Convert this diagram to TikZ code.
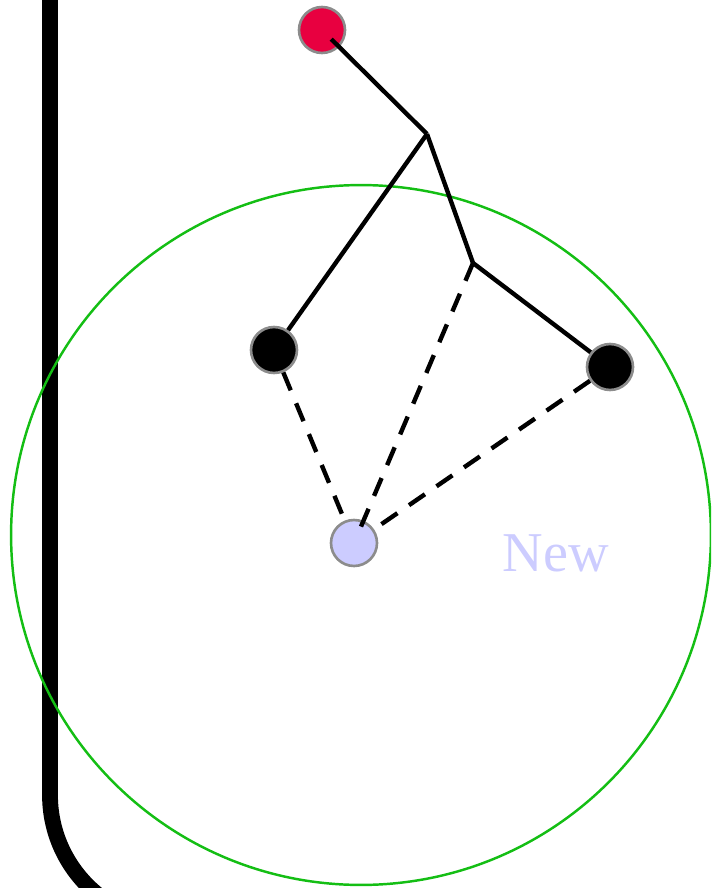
\documentclass[tikz,border=0pt]{standalone}
\usepackage{fontspec}
\setmainfont{Liberation Serif}
\definecolor{leafred}{RGB}{232,0,64}
\definecolor{ringgreen}{RGB}{20,190,20}
\definecolor{newblue}{RGB}{204,204,255}
\begin{document}
\begin{tikzpicture}[x=0.02cm, y=-0.02cm,
  leaf/.style={circle, minimum size=0.92cm, inner sep=0pt, draw=black!45, line width=1.5pt},
  branch/.style={line width=2.5pt},
  probe/.style={line width=2.5pt, dash pattern=on 11pt off 8pt}]

% Fix the frame of the picture
\useasboundingbox (0,0) rectangle (711,888);
\clip (0,0) rectangle (711,888);

% Draw the thick wall on the left with its rounded corner
\draw[line width=9pt, rounded corners=2.56cm] (50,-20) -- (50,923) -- (300,923);

% Draw the green ball round the new point
\draw[ringgreen, line width=1.4pt] (361,535) circle (7cm);

% Define the branch points
\coordinate (a) at (427,134);
\coordinate (b) at (473,263);

% Place the points
\node[leaf, fill=leafred] (root) at (322,30) {};
\node[leaf, fill=black] (left) at (274,350) {};
\node[leaf, fill=black] (right) at (610,367) {};
\node[leaf, fill=newblue] (new) at (354,543) {};

% Draw the tree
\draw[branch, shorten <=7.4pt] (root.center) -- (a);
\draw[branch] (a) -- (left);
\draw[branch] (a) -- (b);
\draw[branch] (b) -- (right);

% Dashed links to the new point
\draw[probe] (left) -- (new);
\draw[probe, shorten >=7.4pt] (b) -- (new.center);
\draw[probe] (right) -- (new);

% Label the new point
\node[newblue, font=\fontsize{32}{38}\selectfont] (label) at (556,553) {New};
\end{tikzpicture}
\end{document}
